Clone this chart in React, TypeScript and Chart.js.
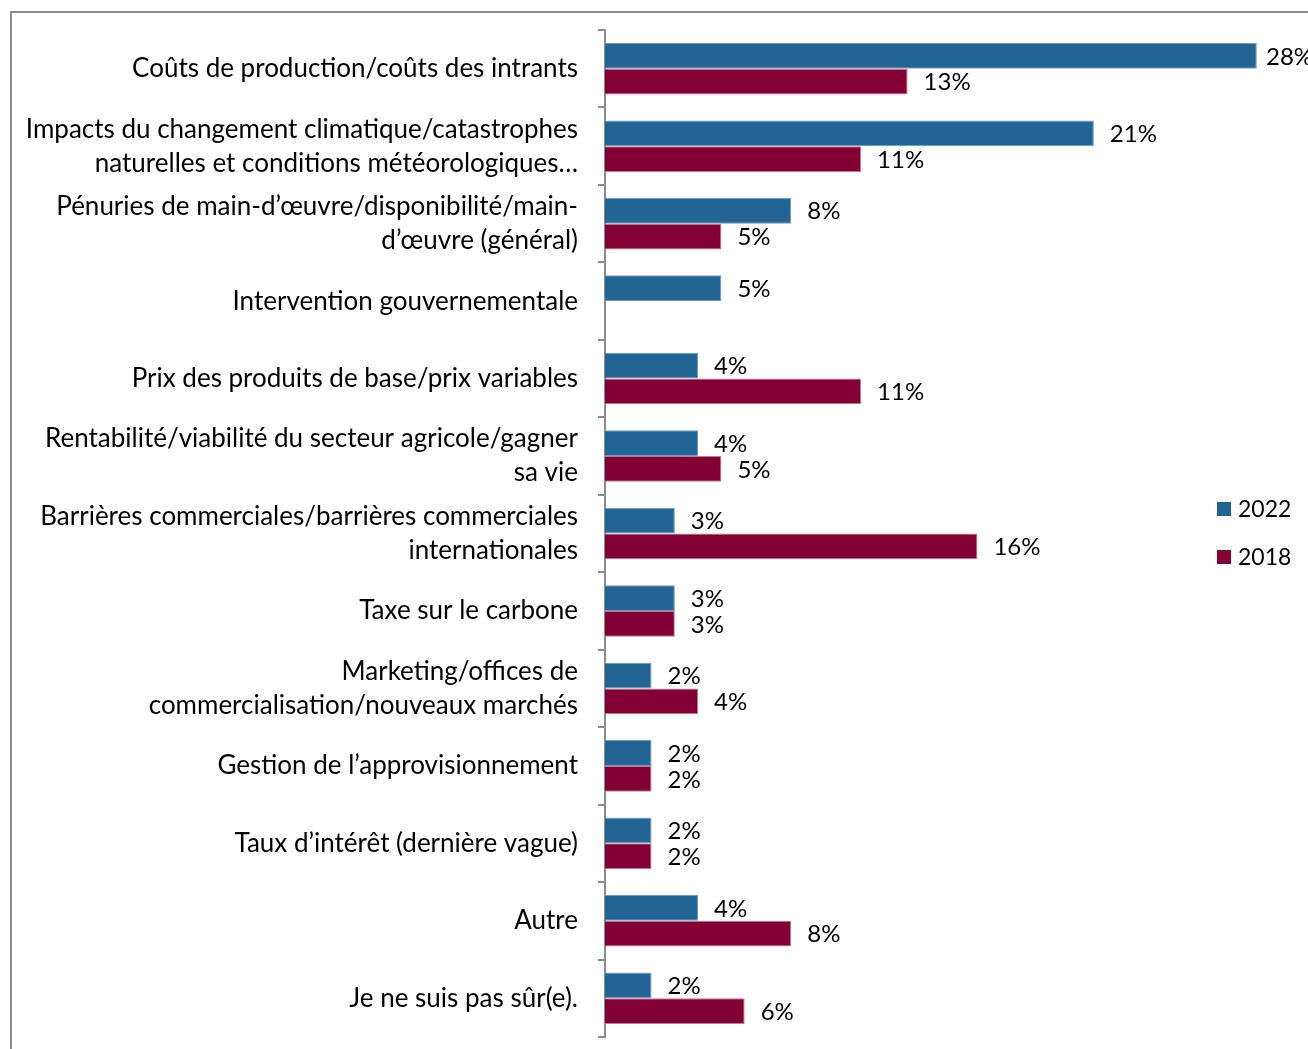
import React, { useEffect, useRef } from "react";
import { Chart, registerables } from "chart.js";

Chart.register(...registerables);

const categories: string[][] = [
  ["Coûts de production/coûts des intrants"],
  ["Impacts du changement climatique/catastrophes", "naturelles et conditions météorologiques…"],
  ["Pénuries de main-d’œuvre/disponibilité/main-", "d’œuvre (général)"],
  ["Intervention gouvernementale"],
  ["Prix des produits de base/prix variables"],
  ["Rentabilité/viabilité du secteur agricole/gagner", "sa vie"],
  ["Barrières commerciales/barrières commerciales", "internationales"],
  ["Taxe sur le carbone"],
  ["Marketing/offices de", "commercialisation/nouveaux marchés"],
  ["Gestion de l’approvisionnement"],
  ["Taux d’intérêt (dernière vague)"],
  ["Autre"],
  ["Je ne suis pas sûr(e)."],
];

const values2022: (number | null)[] = [28, 21, 8, 5, 4, 4, 3, 3, 2, 2, 2, 4, 2];
const values2018: (number | null)[] = [13, 11, 5, null, 11, 5, 16, 3, 4, 2, 2, 8, 6];
const seriesNames = ["2022", "2018"];

const FONT = "Lato";
const BLUE = "#226493";
const RED = "#820034";
const GRAY = "#8c8c8c";

export default function App() {
  const ref = useRef<HTMLCanvasElement>(null);

  useEffect(() => {
    if (!ref.current) return;

    const framePlugin = {
      id: "frame",
      beforeDraw(chart: any) {
        const ctx = chart.ctx;
        ctx.save();
        ctx.fillStyle = "#ffffff";
        ctx.fillRect(0, 0, chart.width, chart.height);
        ctx.strokeStyle = GRAY;
        ctx.lineWidth = 2;
        ctx.beginPath();
        ctx.moveTo(11, chart.height + 5);
        ctx.lineTo(11, 12);
        ctx.lineTo(chart.width + 5, 12);
        ctx.stroke();
        ctx.restore();
      },
    };

    const labelsPlugin = {
      id: "valueLabels",
      afterDatasetsDraw(chart: any) {
        const ctx = chart.ctx;
        ctx.save();
        ctx.font = `24px ${FONT}`;
        ctx.fillStyle = "#000000";
        ctx.textBaseline = "middle";
        ctx.textAlign = "left";
        chart.data.datasets.forEach((ds: any, i: number) => {
          const meta = chart.getDatasetMeta(i);
          meta.data.forEach((el: any, j: number) => {
            const v = ds.data[j];
            if (v === null || v === undefined) return;
            const x = Math.min(el.x + 16, chart.chartArea.right - 42);
            ctx.fillText(`${v}%`, x, el.y + 1);
          });
        });
        ctx.restore();
      },
    };

    const legendPlugin = {
      id: "customLegend",
      afterDraw(chart: any) {
        const ctx = chart.ctx;
        ctx.save();
        ctx.font = `23px ${FONT}`;
        ctx.textBaseline = "middle";
        ctx.textAlign = "left";
        const ys = [509, 557];
        chart.data.datasets.forEach((ds: any, i: number) => {
          ctx.fillStyle = ds.backgroundColor;
          ctx.fillRect(1217, ys[i] - 7, 14, 14);
          ctx.fillStyle = "#000000";
          ctx.fillText(ds.label, 1238, ys[i] + 1);
        });
        ctx.restore();
      },
    };

    const chart = new Chart(ref.current, {
      type: "bar",
      data: {
        labels: categories,
        datasets: [
          {
            label: seriesNames[0],
            data: values2022,
            backgroundColor: BLUE,
            borderColor: "#6f9cc0",
            borderWidth: 1,
            categoryPercentage: 0.666,
            barPercentage: 1,
          },
          {
            label: seriesNames[1],
            data: values2018,
            backgroundColor: RED,
            borderColor: "#c77a98",
            borderWidth: 1,
            categoryPercentage: 0.666,
            barPercentage: 1,
          },
        ],
      },
      options: {
        indexAxis: "y",
        animation: false,
        responsive: false,
        maintainAspectRatio: false,
        layout: { padding: { top: 30, bottom: 12, left: 0, right: 0 } },
        plugins: {
          legend: { display: false },
          tooltip: { enabled: false },
        },
        scales: {
          x: {
            display: false,
            min: 0,
            max: 30.2,
          },
          y: {
            afterFit: (s: any) => {
              s.width = 605;
              s.paddingTop = 0;
              s.paddingBottom = 0;
            },
            border: { color: GRAY, width: 2 },
            grid: {
              offset: true,
              drawOnChartArea: false,
              drawTicks: true,
              tickLength: 7,
              color: GRAY,
              lineWidth: 2,
            },
            ticks: {
              padding: 20,
              color: "#000000",
              font: { family: FONT, size: 26, lineHeight: 1.31 },
              autoSkip: false,
            },
          },
        },
      },
      plugins: [framePlugin, labelsPlugin, legendPlugin],
    });

    return () => chart.destroy();
  }, []);

  return (
    <div style={{ position: "absolute", left: 0, top: 0, width: 1308, height: 1049, overflow: "hidden" }}>
      <canvas ref={ref} width={1308} height={1049} style={{ display: "block" }} />
    </div>
  );
}
